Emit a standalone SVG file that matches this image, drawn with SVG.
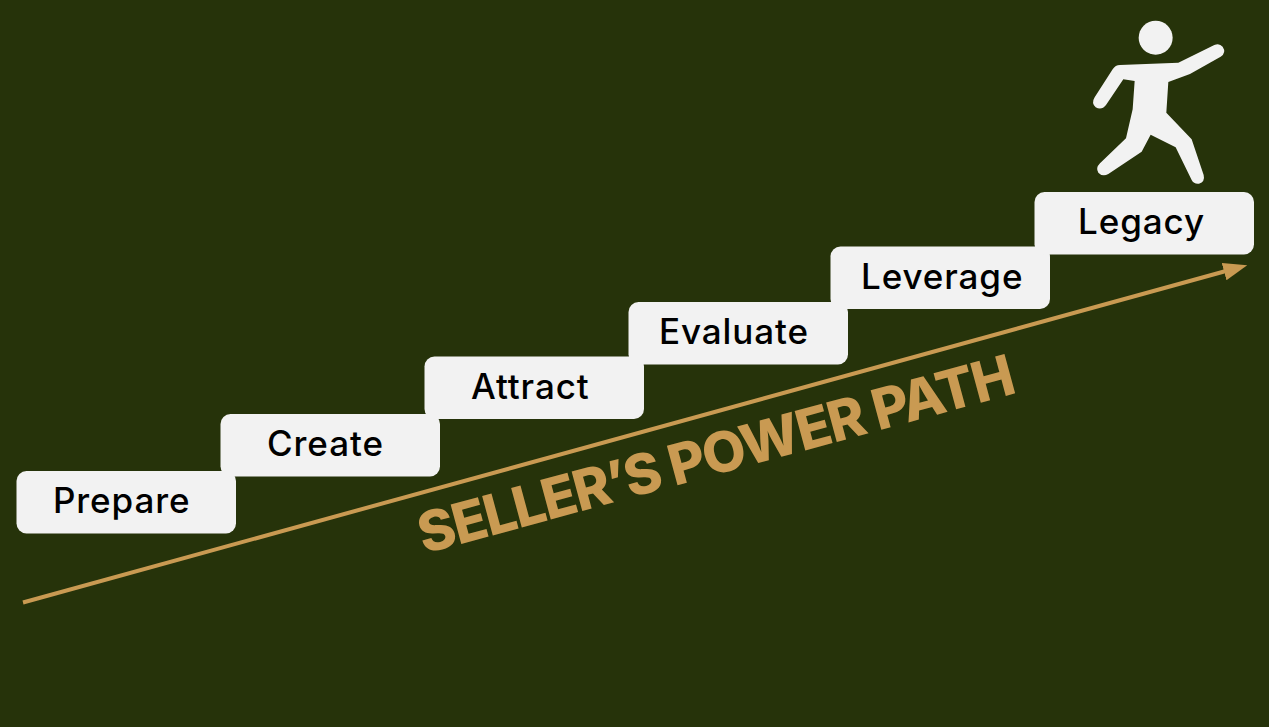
<svg xmlns="http://www.w3.org/2000/svg" width="1269" height="727" viewBox="0 0 1269 727">
<style>
.step{fill:#f2f2f2}
.lbl{font-family:"Inter","Liberation Sans",sans-serif;font-size:35px;font-weight:500;letter-spacing:.9px;fill:#000}
.fig{fill:#f2f2f2}
</style>
<defs>
<marker id="arrow" markerUnits="userSpaceOnUse" markerWidth="30" markerHeight="24" refX="2" refY="10" orient="auto"><path d="M0 1L24 10L0 19Z" fill="#c99a52"/></marker>
</defs>
<rect width="1269" height="727" fill="#26330a"/>
<g id="connectors"><line x1="23" y1="602.500" x2="1226" y2="271" stroke="#c99a52" stroke-width="4" marker-end="url(#arrow)"/></g>
<g id="prepare"><rect class="step" x="16.500" y="471" width="219.500" height="62.500" rx="10"/><text class="lbl" x="53" y="513">Prepare</text></g>
<g id="create"><rect class="step" x="220.500" y="414" width="219.500" height="62.500" rx="10"/><text class="lbl" x="267" y="455.500">Create</text></g>
<g id="attract"><rect class="step" x="424.500" y="356.500" width="219.500" height="62.500" rx="10"/><text class="lbl" x="471" y="398.500">Attract</text></g>
<g id="evaluate"><rect class="step" x="628.500" y="302" width="219.500" height="62.500" rx="10"/><text class="lbl" x="659" y="343.500">Evaluate</text></g>
<g id="leverage"><rect class="step" x="830.500" y="246.500" width="219.500" height="62.500" rx="10"/><text class="lbl" x="861" y="289">Leverage</text></g>
<g id="legacy"><rect class="step" x="1034.500" y="192" width="219.500" height="62.500" rx="10"/><text class="lbl" x="1078" y="234">Legacy</text></g>
<g id="figure" transform="translate(1030 10) scale(.3333)">
<circle class="fig" cx="377" cy="83" r="51"/>
<path class="fig" d="M445 158L553 105Q568 98 578 110Q590 128 572 140L480 192L415 216L409 308L485 388L521 495Q526 515 507 521Q492 523 485 510L437 412L362 374L335 425L235 492Q218 502 205 488Q196 474 210 460L288 385L308 298L314 213L280 208L228 285Q215 302 197 292Q183 280 194 262L248 178Q256 165 270 165Z"/>
</g>
<text transform="translate(424 554) rotate(-15.200)" font-family="Inter,'Liberation Sans',sans-serif" font-size="56" font-weight="800" letter-spacing="-1.550" fill="#c99a52">SELLER’S POWER PATH</text>
</svg>
